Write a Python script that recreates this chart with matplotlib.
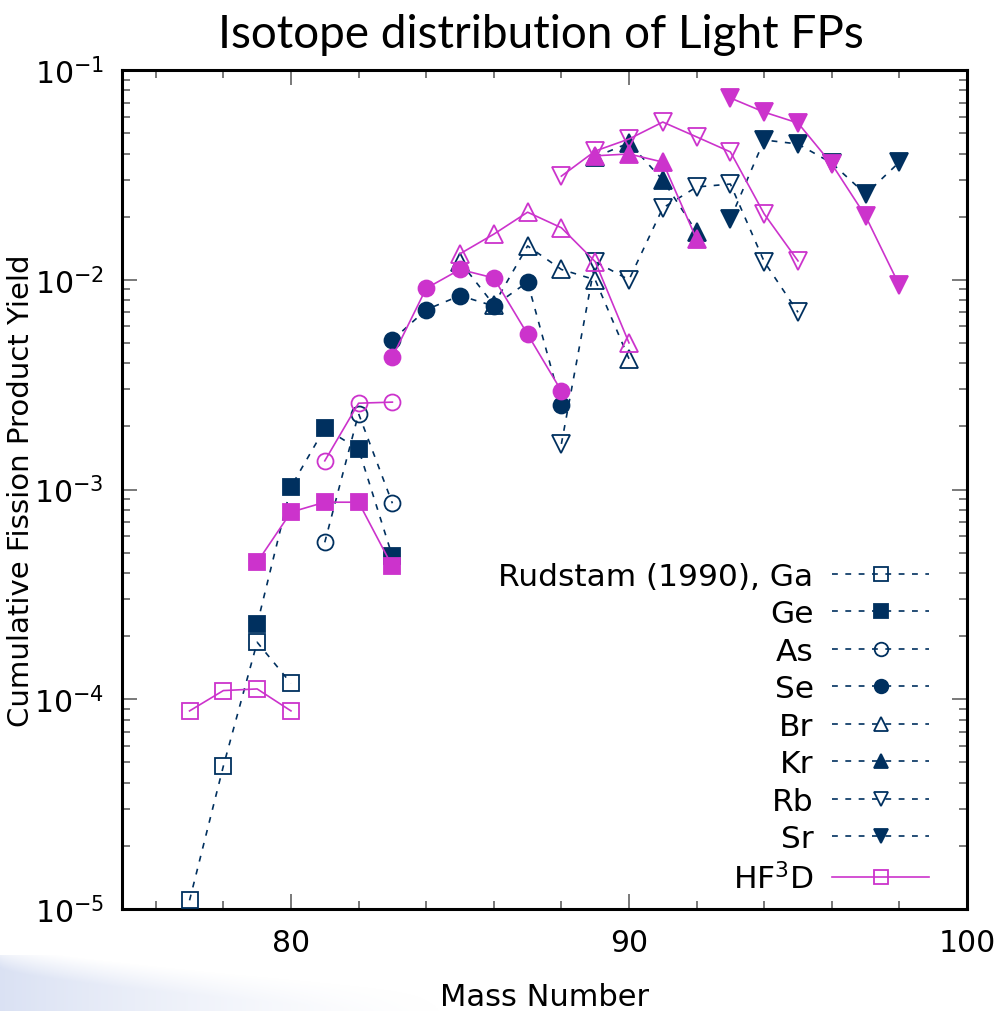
import numpy as np
import matplotlib
matplotlib.use('Agg')
import matplotlib.pyplot as plt
from matplotlib.ticker import FixedLocator, LogLocator, NullFormatter

plt.rcParams['font.family'] = 'DejaVu Sans'
plt.rcParams['mathtext.default'] = 'regular'

# Rudstam (1990) experimental data and HF3D calculation, by element
mass_ga = [77, 78, 79, 80]
ga_exp = [1.1e-5, 4.8e-5, 1.87e-4, 1.19e-4]
ga_hf = [8.8e-5, 1.10e-4, 1.12e-4, 8.8e-5]

mass_ge = [79, 80, 81, 82, 83]
ge_exp = [2.28e-4, 1.03e-3, 1.96e-3, 1.56e-3, 4.8e-4]
ge_hf = [4.5e-4, 7.8e-4, 8.7e-4, 8.7e-4, 4.3e-4]

mass_as = [81, 82, 83]
as_exp = [5.6e-4, 2.3e-3, 8.6e-4]
as_hf = [1.37e-3, 2.58e-3, 2.61e-3]

mass_se = [83, 84, 85, 86, 87, 88]
se_exp = [5.16e-3, 7.2e-3, 8.4e-3, 7.5e-3, 9.75e-3, 2.53e-3]
se_hf = [4.28e-3, 9.1e-3, 1.12e-2, 1.02e-2, 5.5e-3, 2.95e-3]

mass_br = [85, 86, 87, 88, 89, 90]
br_exp = [1.22e-2, 7.6e-3, 1.45e-2, 1.12e-2, 1.0e-2, 4.2e-3]
br_hf = [1.33e-2, 1.65e-2, 2.10e-2, 1.77e-2, 1.22e-2, 5.0e-3]

mass_kr = [89, 90, 91, 92]
kr_exp = [3.85e-2, 4.49e-2, 2.99e-2, 1.69e-2]
kr_hf = [3.9e-2, 3.98e-2, 3.64e-2, 1.56e-2]

mass_rb = [88, 89, 90, 91, 92, 93, 94, 95]
rb_exp = [1.65e-3, 1.22e-2, 1.0e-2, 2.2e-2, 2.77e-2, 2.86e-2, 1.22e-2, 7.0e-3]
rb_hf = [3.12e-2, 4.11e-2, 4.69e-2, 5.65e-2, 4.8e-2, 4.07e-2, 2.06e-2, 1.23e-2]

mass_sr = [93, 94, 95, 96, 97, 98]
sr_exp = [1.95e-2, 4.64e-2, 4.44e-2, 3.6e-2, 2.56e-2, 3.64e-2]
sr_hf = [7.36e-2, 6.3e-2, 5.59e-2, 3.56e-2, 2.01e-2, 9.4e-3]

labels = ['Rudstam (1990), Ga', 'Ge', 'As', 'Se', 'Br', 'Kr', 'Rb', 'Sr']
markers = ['s', 's', 'o', 'o', '^', '^', 'v', 'v']
filled = [False, True, False, True, False, True, False, True]

navy = '#00305f'
magenta = '#cc33cc'

masses = [mass_ga, mass_ge, mass_as, mass_se, mass_br, mass_kr, mass_rb, mass_sr]
exps = [ga_exp, ge_exp, as_exp, se_exp, br_exp, kr_exp, rb_exp, sr_exp]
hfs = [ga_hf, ge_hf, as_hf, se_hf, br_hf, kr_hf, rb_hf, sr_hf]


def runtime():
    fig = plt.figure(figsize=(10.07, 10.12), dpi=100)
    ax = fig.add_axes([0.1211, 0.1008, 0.8392, 0.8290])

    # faint slide decoration at bottom left
    bg = fig.add_axes([0.0, 0.0, 0.46, 0.055], zorder=-5)
    gx = np.linspace(0, 1, 300)
    gy = np.linspace(0, 1, 60)
    X, Y = np.meshgrid(gx, gy)
    edge = 1.0 - 0.9 * X ** 0.7
    soft = np.clip((edge - Y) / 0.45 + 0.5, 0, 1)
    alpha = np.clip((1 - X) ** 1.6 * soft * 0.55, 0, 1)
    img = np.zeros((60, 300, 4))
    img[..., 0] = 0.74
    img[..., 1] = 0.79
    img[..., 2] = 0.92
    img[..., 3] = alpha
    bg.imshow(img, origin='lower', aspect='auto', extent=(0, 1, 0, 1))
    bg.axis('off')

    ms = {'s': 11.5, 'o': 11.5, '^': 12.5, 'v': 12.5}
    for m, e, lab, mk, fl in zip(masses, exps, labels, markers, filled):
        ax.plot(m, e, color=navy, linestyle=(0, (3.5, 4.5)), linewidth=1.2,
                marker=mk, markersize=ms[mk], markeredgewidth=1.3,
                fillstyle='full' if fl else 'none', label=lab, zorder=3)
    for i, (m, h, mk, fl) in enumerate(zip(masses, hfs, markers, filled)):
        ax.plot(m, h, color=magenta, linestyle='-', linewidth=1.2,
                marker=mk, markersize=ms[mk], markeredgewidth=1.3,
                fillstyle='full' if fl else 'none',
                label='HF$^3$D' if i == 0 else None, zorder=4)

    ax.set_yscale('log')
    ax.set_xlim(75, 100)
    ax.set_ylim(1e-5, 1e-1)
    ax.xaxis.set_major_locator(FixedLocator([80, 90, 100]))
    ax.xaxis.set_minor_locator(FixedLocator([76, 78, 82, 84, 86, 88, 92, 94, 96, 98]))
    ax.yaxis.set_minor_locator(LogLocator(base=10, subs=np.arange(2, 10)))
    ax.yaxis.set_minor_formatter(NullFormatter())
    ax.tick_params(which='both', direction='in', top=True, right=True,
                   labelsize=21.5, color='#555555', width=1.1)
    ax.tick_params(which='major', length=11, pad=14)
    ax.tick_params(axis='y', which='major', pad=13)
    ax.tick_params(which='minor', length=5.5)
    for s in ax.spines.values():
        s.set_linewidth(2.2)

    ax.set_xlabel('Mass Number', fontsize=22, labelpad=18)
    ax.set_ylabel('Cumulative Fission Product Yield', fontsize=21)
    ax.yaxis.set_label_coords(-0.103, 0.5)

    ax.legend(loc='lower right', bbox_to_anchor=(0.970, 0.003), frameon=False,
              fontsize=22.5, markerfirst=False, handlelength=3.1,
              handletextpad=0.6, labelspacing=0.27, markerscale=0.85,
              borderaxespad=0.0)

    fig.text(0.537, 0.965, 'Isotope distribution of Light FPs', fontsize=33,
             family='Lato', ha='center', va='center')

    plt.savefig('out.png', dpi=100)


if __name__ == '__main__':
    runtime()
